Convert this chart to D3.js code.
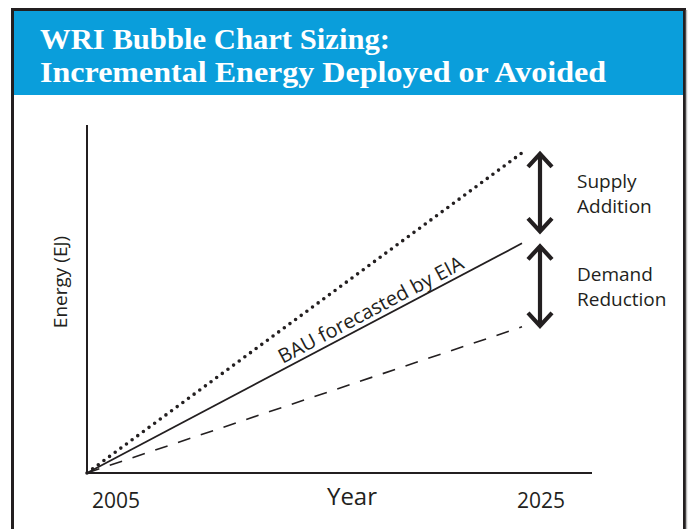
<!DOCTYPE html>
<html>
<head>
<meta charset="utf-8">
<script src="https://cdn.jsdelivr.net/npm/d3@7"></script>
<style>
  html, body { margin: 0; padding: 0; background: #fff; }
  svg { display: block; }
</style>
</head>
<body>
<div id="chart"></div>
<script>
// data (energy in arbitrary units, 0..100)
const years = [2005, 2025];
const supplyAdded = [0, 92];   // dotted
const bauEIA = [0, 66];        // solid
const demandReduced = [0, 42]; // dashed
const yearLabels = ["2005", "2025"];

const width = 689, height = 529;
const ink = "#231f20";
const blue = "#0a9edb";

const svg = d3.select("#chart").append("svg")
    .attr("width", width)
    .attr("height", height);

// frame + header
svg.append("rect")
    .attr("x", 12.5).attr("y", 9.5)
    .attr("width", 672).attr("height", 540)
    .attr("fill", "#fff")
    .attr("stroke", ink)
    .attr("stroke-width", 3);
svg.append("line")
    .attr("x1", 686.5).attr("x2", 686.5).attr("y1", 10).attr("y2", height)
    .attr("stroke", "#bbb").attr("stroke-width", 1.5);

svg.append("rect")
    .attr("x", 14).attr("y", 11)
    .attr("width", 669).attr("height", 84)
    .attr("fill", blue);

const titleLines = ["WRI Bubble Chart Sizing:", "Incremental Energy Deployed or Avoided"];
const titleWidths = [350, 566];
svg.selectAll(".title")
    .data(titleLines)
    .enter()
    .append("text")
    .attr("class", "title")
    .attr("x", 40)
    .attr("y", (d, i) => 49 + i * 33)
    .attr("fill", "#fff")
    .attr("font-family", "'Liberation Serif', 'DejaVu Serif', serif")
    .attr("font-weight", "bold")
    .attr("font-size", "30px")
    .attr("textLength", (d, i) => titleWidths[i])
    .attr("lengthAdjust", "spacingAndGlyphs")
    .text(d => d);

// scales
const x = d3.scaleLinear().domain([2005, 2025]).range([87, 522]);
const y = d3.scaleLinear().domain([0, 100]).range([473, 125]);

const font = "'Open Sans', 'DejaVu Sans', sans-serif";

// axes (plain lines, no ticks)
svg.append("line")
    .attr("x1", x(2005)).attr("x2", x(2005))
    .attr("y1", y(0) + 1).attr("y2", y(100))
    .attr("stroke", ink).attr("stroke-width", 2);
svg.append("line")
    .attr("x1", x(2005) - 1).attr("x2", 592)
    .attr("y1", y(0)).attr("y2", y(0))
    .attr("stroke", ink).attr("stroke-width", 2);

const line = d3.line()
    .x(d => x(d[0]))
    .y(d => y(d[1]));

const zip = vals => years.map((yr, i) => [yr, vals[i]]);

svg.append("path")
    .attr("d", line(zip(supplyAdded)))
    .attr("fill", "none")
    .attr("stroke", ink)
    .attr("stroke-width", 3.6)
    .attr("stroke-linecap", "round")
    .attr("stroke-dasharray", "0 7");

svg.append("path")
    .attr("d", line(zip(bauEIA)))
    .attr("fill", "none")
    .attr("stroke", ink)
    .attr("stroke-width", 1.8);

svg.append("path")
    .attr("d", line(zip(demandReduced)))
    .attr("fill", "none")
    .attr("stroke", ink)
    .attr("stroke-width", 1.6)
    .attr("stroke-dasharray", "13 11");

// BAU label along the solid line
const ang = Math.atan2(y(bauEIA[1]) - y(bauEIA[0]), x(2025) - x(2005)) * 180 / Math.PI;
const frac = 0.665;
const tx = x(2005 + 20 * frac), ty = y(bauEIA[0] + (bauEIA[1] - bauEIA[0]) * frac);
svg.append("text")
    .attr("transform", `translate(${tx},${ty}) rotate(${ang}) translate(0,-5)`)
    .attr("text-anchor", "middle")
    .attr("font-family", font)
    .attr("font-size", "20px")
    .attr("fill", ink)
    .text("BAU forecasted by EIA");

// double arrows
const ax = x(2025) + 18;
function doubleArrow(yTop, yBot) {
    const g = svg.append("g")
        .attr("stroke", ink)
        .attr("stroke-width", 4.2)
        .attr("fill", "none")
        .attr("stroke-linecap", "butt")
        .attr("stroke-linejoin", "miter");
    g.append("line")
        .attr("x1", ax).attr("x2", ax)
        .attr("y1", yTop + 2).attr("y2", yBot - 2);
    g.append("path")
        .attr("d", `M${ax - 12},${yTop + 15}L${ax},${yTop + 2}L${ax + 12},${yTop + 15}`);
    g.append("path")
        .attr("d", `M${ax - 12},${yBot - 15}L${ax},${yBot - 2}L${ax + 12},${yBot - 15}`);
}
doubleArrow(y(supplyAdded[1]) - 1, y(bauEIA[1]) - 10);
doubleArrow(y(bauEIA[1]) + 1, y(demandReduced[1]) + 1);

const sideLabels = [["Supply", "Addition"], ["Demand", "Reduction"]];
const sideY = [188, 281];
sideLabels.forEach((pair, k) => {
    pair.forEach((s, i) => {
        svg.append("text")
            .attr("x", 577)
            .attr("y", sideY[k] + i * 25)
            .attr("font-family", font)
            .attr("font-size", "19px")
            .attr("fill", ink)
            .text(s);
    });
});

// axis labels
svg.append("text")
    .attr("x", x(2005) + 5)
    .attr("y", 508)
    .attr("font-family", font)
    .attr("font-size", "21px")
    .attr("fill", ink)
    .text(yearLabels[0]);
svg.append("text")
    .attr("x", x(2025) - 5)
    .attr("y", 508)
    .attr("font-family", font)
    .attr("font-size", "21px")
    .attr("fill", ink)
    .text(yearLabels[1]);

svg.append("text")
    .attr("x", 352)
    .attr("y", 505)
    .attr("text-anchor", "middle")
    .attr("font-family", font)
    .attr("font-size", "24px")
    .attr("fill", ink)
    .text("Year");

svg.append("text")
    .attr("transform", "translate(67,282) rotate(-90)")
    .attr("text-anchor", "middle")
    .attr("font-family", font)
    .attr("font-size", "19px")
    .attr("fill", ink)
    .text("Energy (EJ)");
</script>
</body>
</html>
